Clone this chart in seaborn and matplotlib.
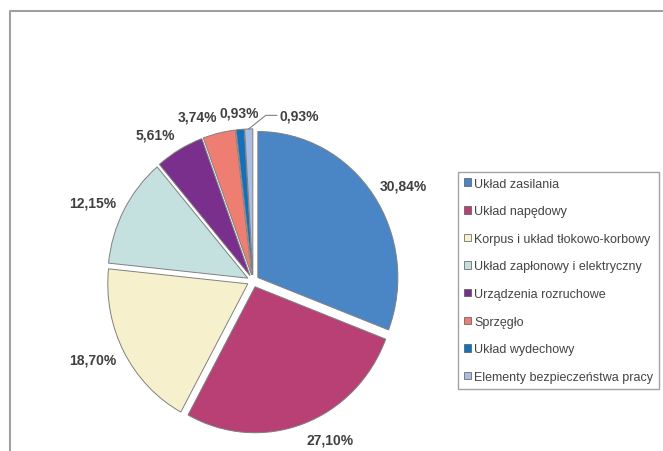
import matplotlib
matplotlib.use('Agg')
import matplotlib.pyplot as plt
import seaborn as sns
import numpy as np
from matplotlib.patches import Patch
from matplotlib.lines import Line2D

categories = ["Układ zasilania", "Układ napędowy", "Korpus i układ tłokowo-korbowy",
              "Układ zapłonowy i elektryczny", "Urządzenia rozruchowe", "Sprzęgło",
              "Układ wydechowy", "Elementy bezpieczeństwa pracy"]
shares = [30.84, 27.10, 18.70, 12.15, 5.61, 3.74, 0.93, 0.93]
colors = ["#4a86c5", "#b94075", "#f6f1cc", "#c4e0df", "#7b2f8c", "#ee7e72", "#1470b8", "#a9bde3"]

sns.set_theme(style="white")
plt.rcParams['font.family'] = ['Liberation Sans', 'DejaVu Sans']

W, H = 663, 452
fig = plt.figure(figsize=(W / 100, H / 100), dpi=100)
fig.patch.set_facecolor('white')

cx, cy, rx, ry = 253, 282, 140, 146
L = 1.5
ax = fig.add_axes([(cx - L * rx) / W, (H - cy - L * ry) / H, 2 * L * rx / W, 2 * L * ry / H])
explode = 0.042
wedges, _ = ax.pie(shares, colors=colors, startangle=90, counterclock=False,
                   explode=[explode] * len(shares),
                   wedgeprops=dict(edgecolor='#808080', linewidth=0.7))
ax.set_aspect('auto')
ax.set_xlim(-L, L)
ax.set_ylim(-L, L)
ax.axis('off')


def fmt(v):
    return f"{v:.2f}%".replace('.', ',')


label_kw = dict(fontsize=10, fontweight='bold', color='#404040')
last = len(shares) - 1
for i, (w, v) in enumerate(zip(wedges, shares)):
    ang = np.deg2rad((w.theta1 + w.theta2) / 2)
    dx, dy = np.cos(ang), np.sin(ang)
    if i == last:
        sx, sy = dx * (1 + explode), dy * (1 + explode)
        ty = dy * 1.135
        ax.plot([sx, dx + 0.12, dx + 0.2], [sy, ty, ty], color='#808080', lw=0.8)
        ax.text(dx + 0.22, ty, fmt(v), ha='left', va='center', **label_kw)
        continue
    x, y = dx * 1.1, dy * 1.16
    ha = 'left' if dx > 0.15 else ('right' if dx < -0.15 else 'center')
    ax.text(x, y, fmt(v), ha=ha, va='center', **label_kw)

handles = [Patch(facecolor=c, edgecolor='#555555', linewidth=0.5) for c in colors]
leg = fig.legend(handles, categories, loc='upper left',
                 bbox_to_anchor=(458 / W, 1 - 173 / H), bbox_transform=fig.transFigure,
                 frameon=True, fancybox=False, edgecolor='#8c8c8c', fontsize=9.0,
                 handlelength=0.55, handleheight=0.55, handletextpad=0.3,
                 labelspacing=1.25, borderpad=0.45, borderaxespad=0)
leg.get_frame().set_linewidth(1.0)
for t in leg.get_texts():
    t.set_color('#444444')

fig.add_artist(Line2D([10 / W, 10 / W, 1.0], [0, 1 - 12 / H, 1 - 12 / H],
                      transform=fig.transFigure, color='#a0a0a0', lw=1.5))

fig.savefig('out.png', dpi=100)
